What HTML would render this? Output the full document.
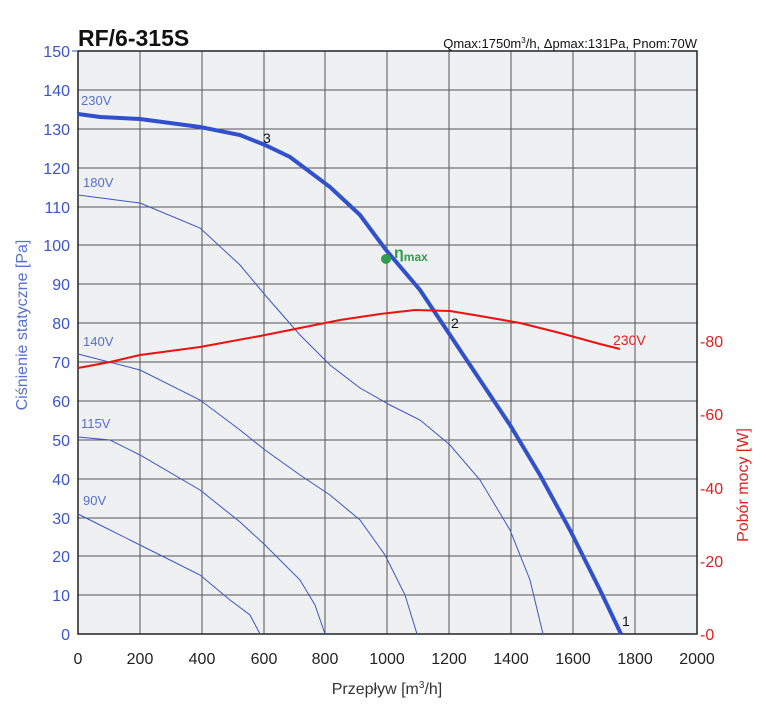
<!DOCTYPE html>
<html><head><meta charset="utf-8"><style>
body{margin:0;background:#fff;width:766px;height:707px;overflow:hidden}
text{font-family:"Liberation Sans",sans-serif}
</style></head><body>
<svg width="766" height="707" xmlns="http://www.w3.org/2000/svg">
<rect x="78" y="51" width="619" height="583" fill="#eef0f2"/>
<g stroke="#555" stroke-width="1">
<line x1="140" y1="51" x2="140" y2="634"/><line x1="202" y1="51" x2="202" y2="634"/><line x1="264" y1="51" x2="264" y2="634"/><line x1="325" y1="51" x2="325" y2="634"/><line x1="387" y1="51" x2="387" y2="634"/><line x1="449" y1="51" x2="449" y2="634"/><line x1="511" y1="51" x2="511" y2="634"/><line x1="573" y1="51" x2="573" y2="634"/><line x1="635" y1="51" x2="635" y2="634"/>
<line x1="78" y1="90" x2="697" y2="90"/><line x1="78" y1="129" x2="697" y2="129"/><line x1="78" y1="168" x2="697" y2="168"/><line x1="78" y1="207" x2="697" y2="207"/><line x1="78" y1="245" x2="697" y2="245"/><line x1="78" y1="284" x2="697" y2="284"/><line x1="78" y1="323" x2="697" y2="323"/><line x1="78" y1="362" x2="697" y2="362"/><line x1="78" y1="401" x2="697" y2="401"/><line x1="78" y1="440" x2="697" y2="440"/><line x1="78" y1="479" x2="697" y2="479"/><line x1="78" y1="518" x2="697" y2="518"/><line x1="78" y1="556" x2="697" y2="556"/><line x1="78" y1="595" x2="697" y2="595"/>
</g>
<rect x="78" y="51" width="619" height="583" fill="none" stroke="#222" stroke-width="1.5"/>
<g fill="none" stroke="#3b55c8" stroke-width="1">
<polyline points="78,195 140,203 200,228 240,265 265,295 300,335 330,365 360,388 390,405 420,420 450,445 480,480 510,530 530,580 543,634"/>
<polyline points="78,354 140,370 200,400 240,430 265,450 300,475 330,495 360,520 385,555 405,595 417,634"/>
<polyline points="78,437 110,440 140,455 200,490 240,522 265,545 300,580 315,605 325,634"/>
<polyline points="78,514 100,525 130,540 160,555 200,575 230,600 250,615 260,634"/>
</g>
<polyline fill="none" stroke="#3050cc" stroke-width="4" points="78,114 100,117 140,119 200,127 240,135 265,145 290,157 330,187 360,215 386,250 420,290 450,335 480,380 510,425 540,475 570,530 600,590 621,634"/>
<polyline fill="none" stroke="#f01010" stroke-width="2" points="78,368 110,362 140,355 200,347 260,336 300,328 340,320 380,314 415,310 450,311 480,316 520,323 560,333 600,344 620,349"/>
<circle cx="386" cy="259" r="5" fill="#2e9e4a"/>
<text x="394" y="258" fill="#2e9e4a" font-size="16" font-weight="bold">η<tspan font-size="12" dy="3">max</tspan></text>
<g font-size="14" fill="#111"><text x="263" y="143">3</text><text x="451" y="328">2</text><text x="622" y="626">1</text></g>
<g font-size="13" fill="#5570d0"><text x="81" y="105">230V</text><text x="83" y="187">180V</text><text x="83" y="346">140V</text><text x="81" y="428">115V</text><text x="83" y="505">90V</text></g>
<text x="613" y="345" font-size="14" fill="#e02020">230V</text>
<g font-size="16" fill="#3b55c8" text-anchor="end">
<text x="70" y="57">150</text><text x="70" y="96">140</text><text x="70" y="135">130</text><text x="70" y="174">120</text><text x="70" y="213">110</text><text x="70" y="251">100</text><text x="70" y="290">90</text><text x="70" y="329">80</text><text x="70" y="368">70</text><text x="70" y="407">60</text><text x="70" y="446">50</text><text x="70" y="485">40</text><text x="70" y="524">30</text><text x="70" y="562">20</text><text x="70" y="601">10</text><text x="70" y="640">0</text>
</g>
<g stroke="#3b55c8"><line x1="72" y1="51" x2="78" y2="51"/></g>
<g font-size="16" fill="#e02020">
<text x="700" y="347">-80</text><text x="700" y="420">-60</text><text x="700" y="494">-40</text><text x="700" y="567">-20</text><text x="700" y="640">-0</text>
</g>
<g font-size="16" fill="#222" text-anchor="middle">
<text x="78" y="664">0</text><text x="140" y="664">200</text><text x="202" y="664">400</text><text x="264" y="664">600</text><text x="325" y="664">800</text><text x="387" y="664">1000</text><text x="449" y="664">1200</text><text x="511" y="664">1400</text><text x="573" y="664">1600</text><text x="635" y="664">1800</text><text x="697" y="664">2000</text>
</g>
<text x="387" y="694" font-size="16" fill="#333" text-anchor="middle">Przepływ [m<tspan font-size="10" dy="-6">3</tspan><tspan dy="6">/h]</tspan></text>
<text transform="translate(27,325) rotate(-90)" font-size="16" fill="#5570d0" text-anchor="middle">Ciśnienie statyczne [Pa]</text>
<text transform="translate(748,485) rotate(-90)" font-size="16" fill="#e02020" text-anchor="middle">Pobór mocy [W]</text>
<text x="78" y="46" font-size="23" font-weight="bold" fill="#111">RF/6-315S</text>
<text x="697" y="48" font-size="13" fill="#111" text-anchor="end">Qmax:1750m<tspan font-size="8" dy="-5">3</tspan><tspan dy="5">/h, Δpmax:131Pa, Pnom:70W</tspan></text>
</svg>
</body></html>
